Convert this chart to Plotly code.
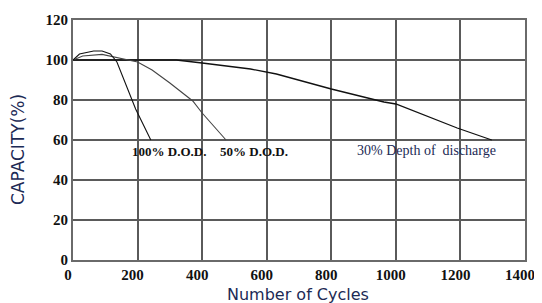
import plotly.graph_objects as go

# Data (cycles, capacity %)
dod100_cycles = [0, 20, 64, 90, 116, 136, 194, 241]
dod100_capacity = [100, 103, 104.5, 104.5, 103, 99, 75.5, 60]

dod50_cycles = [0, 30, 90, 200, 245, 300, 371, 400, 474]
dod50_capacity = [100, 102, 102.8, 99, 95, 88.5, 79.5, 73.5, 60]

dod30_cycles = [0, 320, 400, 550, 630, 800, 963, 1000, 1190, 1297]
dod30_capacity = [100, 100, 98.5, 95.5, 93, 85.5, 79, 78, 66, 60]

x_ticks = [0, 200, 400, 600, 800, 1000, 1200, 1400]
y_ticks = [0, 20, 40, 60, 80, 100, 120]

labels = ["100% D.O.D.", "50% D.O.D.", "30% Depth of  discharge"]

OFF = 8                      # default page margin around the figure
W, H = 534, 295
L, R, T, B = 65, 17, 12, 43
PW, PH = W - L - R, H - T - B


def px_to_paper(px, py):
    """page pixel -> paper coordinates"""
    return (px - OFF - L) / PW, (H - B - (py - OFF)) / PH


fig = go.Figure()
fig.add_trace(go.Scatter(x=dod30_cycles, y=dod30_capacity, mode="lines",
                         line=dict(color="#111111", width=1.3), name=labels[2]))
fig.add_trace(go.Scatter(x=dod50_cycles, y=dod50_capacity, mode="lines",
                         line=dict(color="#444444", width=1.1), name=labels[1]))
fig.add_trace(go.Scatter(x=dod100_cycles, y=dod100_capacity, mode="lines",
                         line=dict(color="#111111", width=1.1), name=labels[0]))

serif_bold = dict(family="Liberation Serif", size=13, color="#111111", weight="bold")
fig.add_annotation(x=177, y=54.5, text=labels[0], showarrow=False, xanchor="left",
                   yanchor="middle", font=serif_bold)
fig.add_annotation(x=449, y=54.5, text=labels[1], showarrow=False, xanchor="left",
                   yanchor="middle", font=serif_bold)
fig.add_annotation(x=872, y=55, text=labels[2].replace("  ", "&nbsp; "), showarrow=False,
                   xanchor="left", yanchor="middle",
                   font=dict(family="Liberation Serif", size=14, color="#1c2a55"))

# axis titles placed in the margins
sans = dict(family="DejaVu Sans", size=16, color="#1c2a55")
xt = px_to_paper(298, 294)
fig.add_annotation(xref="paper", yref="paper", x=xt[0], y=xt[1],
                   text="Number of Cycles", showarrow=False,
                   xanchor="center", yanchor="middle", font=sans)
yt = px_to_paper(18, 150)
fig.add_annotation(xref="paper", yref="paper", x=yt[0], y=yt[1],
                   text="CAPACITY(%)", textangle=-90, showarrow=False,
                   xanchor="center", yanchor="middle",
                   font=dict(family="DejaVu Sans", size=17, color="#1c2a55"))

tick_font = dict(family="Liberation Serif", size=15, color="#111111", weight="bold")
fig.update_xaxes(range=[0, 1400], tickvals=x_ticks, ticktext=[str(v) for v in x_ticks],
                 showgrid=True, gridcolor="#5a5a5a", gridwidth=1.5,
                 showline=True, linecolor="#6a6a6a", linewidth=2, mirror=True,
                 zeroline=False, ticks="", tickfont=tick_font, automargin=False,
                 ticklabelshift=-5)
fig.update_yaxes(range=[0, 120], tickvals=y_ticks, ticktext=[str(v) for v in y_ticks],
                 showgrid=True, gridcolor="#5a5a5a", gridwidth=1.5,
                 showline=True, linecolor="#6a6a6a", linewidth=2, mirror=True,
                 zeroline=False, ticks="", tickfont=tick_font, automargin=False)

fig.update_layout(width=W, height=H, showlegend=False,
                  margin=dict(l=L, r=R, t=T, b=B),
                  plot_bgcolor="white", paper_bgcolor="white")

fig.write_html("out.html")
